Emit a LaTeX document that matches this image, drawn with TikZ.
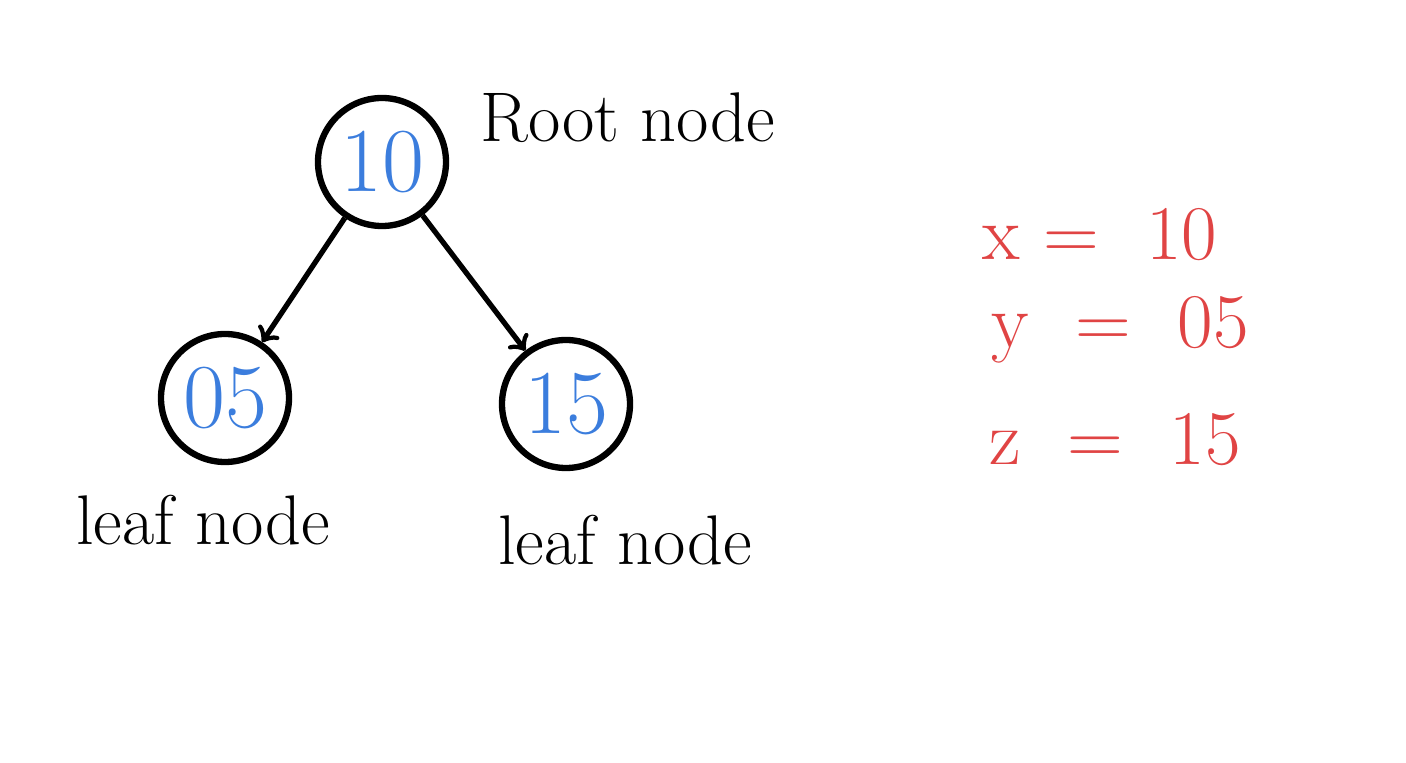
\documentclass[tikz,border=0pt]{standalone}
\usepackage{tikz}
\usetikzlibrary{positioning, calc, arrows}
\definecolor{numblue}{HTML}{3B7DDD}
\definecolor{notered}{HTML}{E04444}
\tikzset{treenode/.style={circle, draw, line width=1.8pt, minimum size=1.28cm, inner sep=0pt, text=numblue, font=\fontsize{26}{30}\selectfont}}
\tikzset{tag/.style={font=\fontsize{20}{24}\selectfont}}
\tikzset{vals/.style={text=notered, font=\fontsize{22}{26}\selectfont}}

\begin{document}
\begin{tikzpicture}

      \useasboundingbox (0,0) rectangle (14.06,7.62);

      % NODES

      \node[treenode] (root) at (3.82,6.00) {10};
      \node[treenode] (left) at (2.25,3.64) {05};
      \node[treenode] (right) at (5.66,3.58) {15};

      % LABELS

      \node[tag] (roottag) at (6.28,6.44) {Root node};
      \node[tag] (lefttag) at (2.03,2.42) {leaf node};
      \node[tag] (righttag) at (6.25,2.22) {leaf node};

      % ARCS

      \draw[->, line width=1.5pt] (root) -- (left);
      \draw[->, line width=1.5pt] (root) -- (right);

      % VALUES

      \node[vals] (xval) at (11.0,5.27) {x =\ \ 10};
      \node[vals] (yval) at (11.2,4.32) {y\ \ =\ \ 05};
      \node[vals] (zval) at (11.15,3.22) {z\ \ =\ \ 15};
    \end{tikzpicture}
\end{document}
